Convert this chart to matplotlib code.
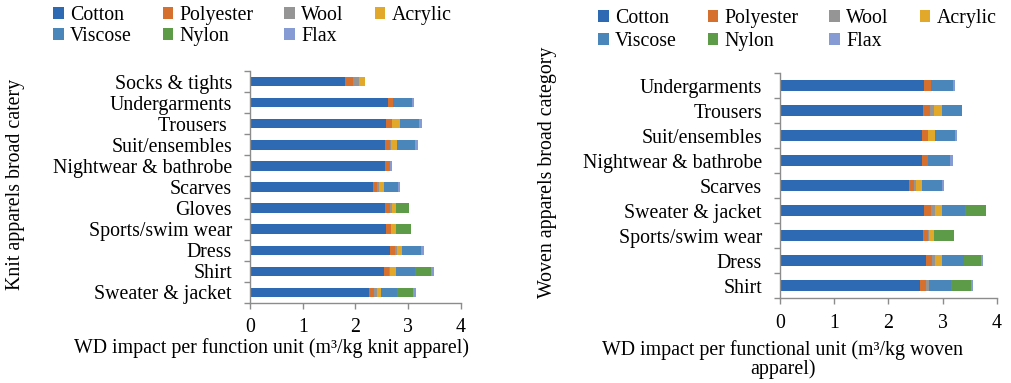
import numpy as np
import matplotlib
matplotlib.use("Agg")
import matplotlib.pyplot as plt
from matplotlib.ticker import FixedLocator

plt.rcParams['font.family'] = ['Liberation Serif', 'DejaVu Serif']
plt.rcParams['font.size'] = 14.3

materials = ['Cotton', 'Polyester', 'Wool', 'Acrylic', 'Viscose', 'Nylon', 'Flax']
colors = ['#2E69B3', '#D5702F', '#959595', '#E2A829', '#4A86BA', '#5E9B48', '#869BD3']

# knit apparel, top to bottom
knit_categories = ['Socks & tights', 'Undergarments', 'Trousers ', 'Suit/ensembles',
                   'Nightwear & bathrobe', 'Scarves', 'Gloves', 'Sports/swim wear',
                   'Dress', 'Shirt', 'Sweater & jacket']
knit_cotton    = [1.80, 2.61, 2.58, 2.56, 2.56, 2.33, 2.56, 2.58, 2.65, 2.54, 2.25]
knit_polyester = [0.15, 0.10, 0.11, 0.10, 0.09, 0.08, 0.09, 0.09, 0.09, 0.10, 0.10]
knit_wool      = [0.11, 0.00, 0.01, 0.01, 0.00, 0.03, 0.04, 0.01, 0.04, 0.01, 0.05]
knit_acrylic   = [0.12, 0.00, 0.15, 0.11, 0.00, 0.10, 0.08, 0.09, 0.11, 0.11, 0.09]
knit_viscose   = [0.00, 0.36, 0.36, 0.35, 0.00, 0.27, 0.00, 0.00, 0.36, 0.36, 0.30]
knit_nylon     = [0.00, 0.00, 0.00, 0.00, 0.00, 0.00, 0.25, 0.28, 0.00, 0.32, 0.30]
knit_flax      = [0.00, 0.04, 0.05, 0.05, 0.04, 0.03, 0.00, 0.00, 0.04, 0.05, 0.05]

# woven apparel, top to bottom
woven_categories = ['Undergarments', 'Trousers', 'Suit/ensembles', 'Nightwear & bathrobe',
                    'Scarves', 'Sweater & jacket', 'Sports/swim wear', 'Dress', 'Shirt']
woven_cotton    = [2.66, 2.64, 2.62, 2.62, 2.38, 2.66, 2.63, 2.69, 2.58]
woven_polyester = [0.12, 0.13, 0.11, 0.11, 0.09, 0.13, 0.10, 0.12, 0.11]
woven_wool      = [0.00, 0.07, 0.00, 0.00, 0.04, 0.06, 0.01, 0.05, 0.06]
woven_acrylic   = [0.00, 0.15, 0.13, 0.00, 0.11, 0.14, 0.10, 0.12, 0.00]
woven_viscose   = [0.41, 0.37, 0.36, 0.41, 0.37, 0.42, 0.00, 0.41, 0.40]
woven_nylon     = [0.00, 0.00, 0.00, 0.00, 0.00, 0.39, 0.36, 0.32, 0.37]
woven_flax      = [0.04, 0.00, 0.04, 0.04, 0.03, 0.00, 0.00, 0.04, 0.04]

knit = [knit_cotton, knit_polyester, knit_wool, knit_acrylic, knit_viscose, knit_nylon, knit_flax]
woven = [woven_cotton, woven_polyester, woven_wool, woven_acrylic, woven_viscose, woven_nylon, woven_flax]

W, H = 1012, 383
fig = plt.figure(figsize=(W / 100, H / 100), dpi=100)
ax1 = fig.add_axes([250 / W, 1 - 303 / H, 211 / W, 232 / H])
ax2 = fig.add_axes([780 / W, 1 - 298.3 / H, 217 / W, 225 / H])


def stacked(ax, categories, series):
    y = np.arange(len(categories))
    left = np.zeros(len(categories))
    for name, vals, c in zip(materials, series, colors):
        ax.barh(y, vals, left=left, height=0.45, color=c, label=name)
        left += np.array(vals)
    ax.set_xlim(0, 4)
    ax.set_ylim(len(categories) - 0.5, -0.5)
    ax.set_xticks([0, 1, 2, 3, 4])
    ax.set_yticks(y, categories)
    # category separators as minor ticks
    ax.yaxis.set_minor_locator(FixedLocator(np.arange(len(categories) + 1) - 0.5))
    ax.tick_params(axis='y', which='major', length=0, pad=13)
    ax.tick_params(axis='y', which='minor', length=4.5, width=1, color='#8c8c8c')
    ax.tick_params(axis='x', length=4, width=1, color='#8c8c8c', pad=7)
    for s in ['top', 'right']:
        ax.spines[s].set_visible(False)
    for s in ['left', 'bottom']:
        ax.spines[s].set_color('#8c8c8c')
        ax.spines[s].set_linewidth(1)


stacked(ax1, knit_categories, knit)
stacked(ax2, woven_categories, woven)


def legend(ax, x, y, spacing):
    # legend fills column by column; reorder so the rows read across
    handles, labels = ax.get_legend_handles_labels()
    order = [0, 4, 1, 5, 2, 6, 3]
    ax.legend([handles[i] for i in order], [labels[i] for i in order],
              ncol=4, frameon=False, handlelength=0.55, handleheight=0.55,
              handletextpad=0.3, columnspacing=1.55, labelspacing=spacing,
              borderpad=0, borderaxespad=0, loc='upper left',
              bbox_to_anchor=(x / W, 1 - y / H), bbox_transform=fig.transFigure)


legend(ax1, 53, 6, 0.12)
legend(ax2, 598, 9, 0.22)

fig.text(16 / W, 1 - 184 / H, 'Knit apparels broad catery', rotation=90,
         ha='center', va='center')
fig.text(548 / W, 1 - 172 / H, 'Woven apparels broad category', rotation=90,
         ha='center', va='center')
fig.text(271 / W, 1 - 348 / H, 'WD impact per function unit (m³/kg knit apparel)',
         ha='center', va='center')
fig.text(783 / W, 1 - 360 / H, 'WD impact per functional unit (m³/kg woven\napparel)',
         ha='center', va='center', linespacing=0.95)

fig.savefig('out.png', dpi=100)
